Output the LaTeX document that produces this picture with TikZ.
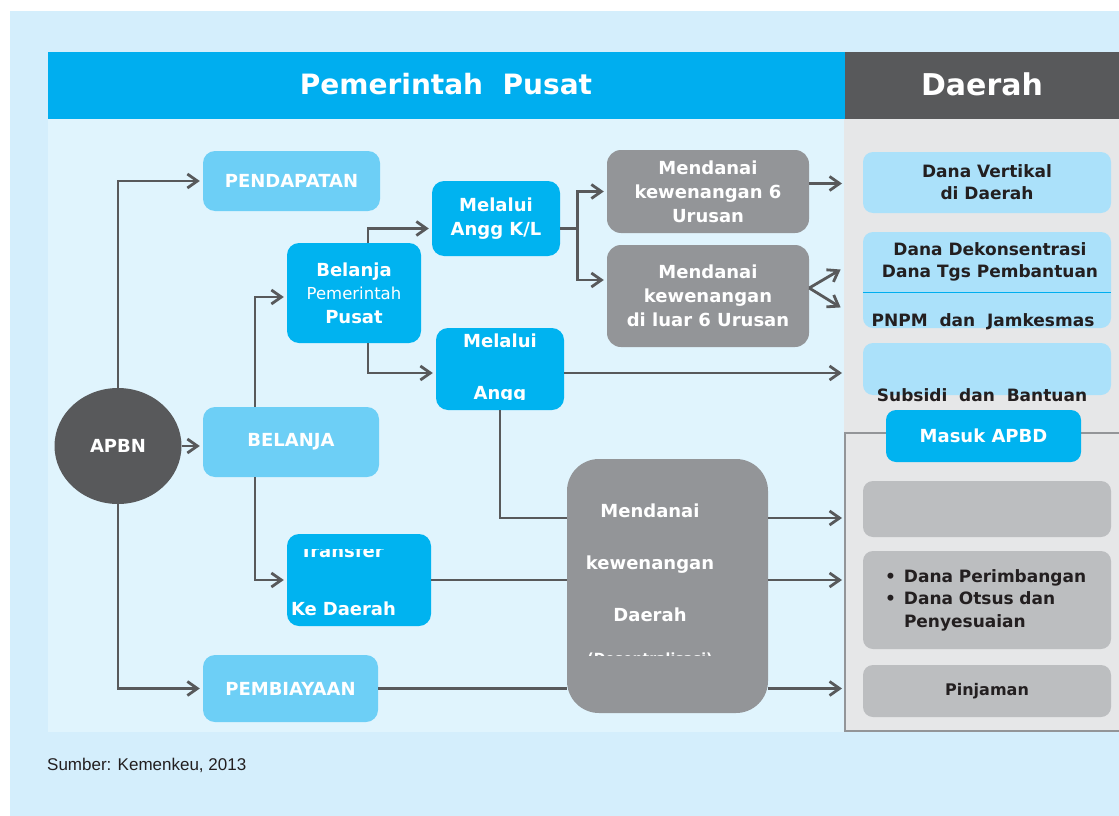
\documentclass[tikz,border=0pt]{standalone}
\usepackage{fontspec}
\setmainfont{DejaVu Sans}
\newfontfamily\srcfont{Liberation Sans}
\usetikzlibrary{shapes.geometric,arrows.meta,calc}
\definecolor{bgout}{HTML}{D4EEFC}
\definecolor{bgin}{HTML}{E0F4FD}
\definecolor{panel}{HTML}{E6E7E8}
\definecolor{hblue}{HTML}{00AEEF}
\definecolor{hgray}{HTML}{58595B}
\definecolor{boxlight}{HTML}{6DCFF6}
\definecolor{boxblue}{HTML}{00B3F0}
\definecolor{boxgray}{HTML}{939598}
\definecolor{rblue}{HTML}{ABE1FA}
\definecolor{rgray}{HTML}{BCBEC0}
\definecolor{ink}{HTML}{231F20}
\definecolor{arrowgray}{HTML}{58595B}

\begin{document}
\begin{tikzpicture}[x=1pt,y=-1pt]
\tikzset{wh/.style 2 args={minimum width=#1pt,minimum height=#2pt,inner sep=0pt},
 lbox/.style={fill=boxlight,text=white,rounded corners=12pt,font=\fontsize{18}{23.5}\selectfont\bfseries,align=center},
 bbox/.style={fill=boxblue,text=white,rounded corners=12pt,font=\fontsize{18}{23.5}\selectfont\bfseries,align=center},
 gbox/.style={fill=boxgray,text=white,rounded corners=14pt,font=\fontsize{18}{24}\selectfont\bfseries,align=center},
 rbox/.style={fill=rblue,text=ink,rounded corners=10pt,font=\fontsize{17}{22}\selectfont\bfseries,align=center},
 rgbox/.style={fill=rgray,text=ink,rounded corners=10pt,font=\fontsize{17}{22.5}\selectfont\bfseries,align=center},
 rtext/.style={text=ink,font=\fontsize{17}{22}\selectfont\bfseries,align=center},
 ln/.style={draw=arrowgray,line width=2.8pt},
 arr/.style={ln,-{Straight Barb[length=10pt,width=14pt]},shorten >=3pt}}
\useasboundingbox (0,0) rectangle (1119,816);
\fill[white] (0,0) rectangle (1119,816); \fill[bgout] (10,11) rectangle (1119,816);
\fill[bgin] (48,119) rectangle (844,732); \fill[panel] (844,119) rectangle (1119,732);
\fill[hblue] (48,52) rectangle (845,119); \fill[hgray] (845,52) rectangle (1119,119);
\node[text=white,font=\fontsize{28}{30}\selectfont\bfseries] (hpp) at (446,84) {Pemerintah\ \ Pusat};
\node[text=white,font=\fontsize{30}{32}\selectfont\bfseries] (hdr) at (982,84) {Daerah};
\draw[boxgray,line width=2.5pt,fill=panel] (845,433) rectangle (1125,731);
\coordinate (rp) at (845,0);

\node[ellipse,fill=hgray,text=white,wh={127}{116},font=\fontsize{18}{20}\selectfont\bfseries] (apbn) at (118,446) {APBN};
\node[lbox,wh={177}{60}] (pend) at (291.5,181) {PENDAPATAN};
\node[lbox,wh={176}{70}] (bel) at (291,442) {BELANJA};
\node[lbox,wh={175}{67}] (pemb) at (290.5,688.5) {PEMBIAYAAN};
\node[bbox,wh={134}{100}] (bpp) at (354,293) {Belanja\\{\mdseries\fontsize{16.5}{23.5}\selectfont Pemerintah}\\Pusat};
\node[bbox,wh={128}{75}] (mkl) at (496,218.5) {Melalui\\Angg K/L};
\node[bbox,wh={128}{82},font=\fontsize{18}{52}\selectfont\bfseries] (ma) at (500,369) {Melalui\\Angg};
\node[bbox,wh={144}{92},font=\fontsize{18}{58}\selectfont\bfseries,align=left,text width=136pt] (tkd) at (359,580) {\hspace*{9pt}Transfer\\Ke Daerah};
\fill[boxblue] (300,537) rectangle (420,549); \fill[boxblue] (455,400) rectangle (545,408);
\node[gbox,wh={202}{83}] (m6) at (708,191.5) {Mendanai\\kewenangan 6\\Urusan};
\node[gbox,wh={202}{102}] (ml6) at (708,296) {Mendanai\\kewenangan\\di luar 6 Urusan};
\node[gbox,rounded corners=32pt,wh={201}{254}] (mdd) at (667.5,586) {};
\node[text=white,font=\fontsize{18}{52}\selectfont\bfseries,align=center] (mddt) at (650,585) {Mendanai\\kewenangan\\Daerah\\[-10pt]{\fontsize{14}{16}\selectfont(Desentralisasi)}};
\fill[boxgray] (570,656) rectangle (765,678);

\node[rbox,wh={248}{61}] (dv) at (987,182.5) {Dana Vertikal\\di Daerah};
\node[rbox,wh={248}{96}] (dk) at (987,280) {};
\node[rtext] (dkt) at (990,262) {Dana Dekonsentrasi\\Dana Tgs Pembantuan};
\draw[hblue,line width=0.8pt] ($(dk.west)+(0,12)$) -- ($(dk.east)+(0,12)$);
\node[rtext] (pnpm) at (983,322) {PNPM\ \ dan\ \ Jamkesmas};
\node[rbox,wh={248}{52}] (sb) at (987,369) {};
\node[rtext] (sbt) at (982,395) {Subsidi\ \ dan\ \ Bantuan};
\node[bbox,rounded corners=10pt,wh={195}{52}] (apbd) at (983.5,436) {Masuk APBD};
\node[rgbox,wh={248}{56}] (g1) at (987,509) {};
\node[rgbox,wh={248}{98},align=left,text width=204pt,inner xsep=22pt] (g2) at (987,600) {\makebox[19pt][l]{\textbullet}Dana Perimbangan\\\makebox[19pt][l]{\textbullet}Dana Otsus dan\\\hspace*{19pt}Penyesuaian};
\node[rgbox,wh={248}{52},font=\fontsize{16}{18}\selectfont\bfseries] (pj) at (987,691) {Pinjaman};
\node[anchor=west,inner sep=0pt,text=ink,font=\srcfont\fontsize{17}{19}\selectfont] (src) at (47,765) {Sumber: Kemenkeu, 2013};

\draw[arr] (apbn.north) |- (pend.west); \draw[arr] (apbn.east) -- (apbn.east -| bel.west); \draw[arr] (apbn.south) |- (pemb.west);
\draw[arr] ([xshift=-36pt]bel.north) |- ([yshift=-4pt]bpp.west); \draw[arr] ([xshift=-36pt]bel.south) |- (tkd.west);
\draw[arr] ([xshift=14pt]bpp.north) |- ([yshift=-10pt]mkl.west); \draw[arr] ([xshift=14pt]bpp.south) |- ([yshift=-4pt]ma.west);
\draw[ln] ([yshift=-10pt]mkl.east) -- ++(17,0) coordinate (fk);
\draw[arr] (fk) |- (m6.west); \draw[arr] (fk) |- ([yshift=16pt]ml6.west);
\coordinate (m6o) at ([yshift=8pt]m6.east); \draw[arr] (m6o) -- (m6o -| rp);
\coordinate (ml6o) at ([yshift=8pt]ml6.east); \draw[arr] (ml6o) -- ++(34,-20); \draw[arr] (ml6o) -- ++(34,21);
\coordinate (mao) at ([yshift=-4pt]ma.east); \draw[arr] (mao) -- (mao -| rp);
\draw[ln] (ma.south) |- ([yshift=68pt]mdd.west);
\coordinate (mddo) at ([yshift=68pt]mdd.east); \draw[arr] (mddo) -- (mddo -| rp);
\draw[ln] (tkd.east) -- (tkd.east -| mdd.west); \draw[arr] (mdd.east |- tkd.east) -- (tkd.east -| rp);
\draw[ln] (pemb.east) -- (pemb.east -| mdd.west); \draw[arr] (mdd.east |- pemb.east) -- (pemb.east -| rp);
\end{tikzpicture}
\end{document}
